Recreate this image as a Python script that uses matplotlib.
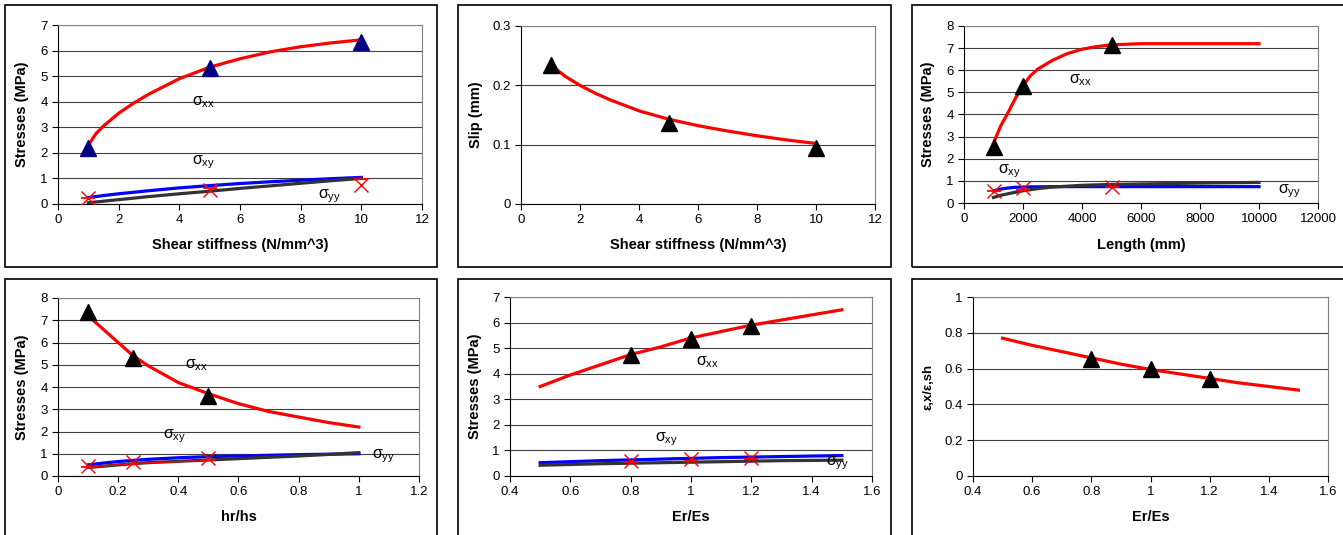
import numpy as np
import matplotlib
matplotlib.use('Agg')
import matplotlib.pyplot as plt
from matplotlib.patches import Rectangle

plt.rcParams['font.family'] = ['Liberation Sans', 'DejaVu Sans']
plt.rcParams['mathtext.fontset'] = 'custom'
plt.rcParams['mathtext.rm'] = 'Liberation Sans'
plt.rcParams['mathtext.it'] = 'Liberation Sans'

# panel 1: shear stiffness vs stresses
p1_x = [1, 1.25, 1.5, 2, 2.5, 3, 4, 5, 6, 7, 8, 9, 10]
p1_sxx = [2.3, 2.75, 3.05, 3.55, 3.95, 4.3, 4.9, 5.35, 5.68, 5.95, 6.15, 6.3, 6.42]
p1_sxy = [0.25, 0.29, 0.33, 0.4, 0.46, 0.52, 0.63, 0.72, 0.8, 0.87, 0.93, 0.99, 1.04]
p1_syy = [0.05, 0.08, 0.11, 0.17, 0.23, 0.29, 0.4, 0.5, 0.61, 0.71, 0.81, 0.91, 1.0]
p1_tri_x = [1, 5, 10]
p1_tri_y = [2.2, 5.3, 6.35]
p1_fe_xy = [0.25, 0.55, 0.75]
p1_fe_yy = [0.22, 0.62, 0.97]

# panel 2: shear stiffness vs slip
p2_x = [1, 1.5, 2, 2.5, 3, 4, 5, 6, 7, 8, 9, 10]
p2_slip = [0.235, 0.215, 0.2, 0.187, 0.176, 0.157, 0.143, 0.132, 0.123, 0.115, 0.108, 0.102]
p2_tri_x = [1, 5, 10]
p2_tri_y = [0.235, 0.137, 0.094]

# panel 3: length vs stresses
p3_x = [1000, 1250, 1500, 1750, 2000, 2250, 2500, 3000, 3500, 4000, 4500, 5000, 6000, 8000, 10000]
p3_sxx = [2.7, 3.5, 4.1, 4.75, 5.3, 5.75, 6.05, 6.45, 6.75, 6.95, 7.07, 7.15, 7.2, 7.2, 7.2]
p3_sxy = [0.55, 0.63, 0.68, 0.71, 0.72, 0.73, 0.73, 0.74, 0.74, 0.74, 0.74, 0.74, 0.74, 0.74, 0.74]
p3_syy = [0.25, 0.35, 0.42, 0.49, 0.55, 0.6, 0.65, 0.72, 0.76, 0.8, 0.82, 0.84, 0.86, 0.9, 0.93]
p3_tri_x = [1000, 2000, 5000]
p3_tri_y = [2.55, 5.3, 7.15]
p3_fe_xy = [0.55, 0.67, 0.72]
p3_fe_yy = [0.52, 0.57, 0.74]

# panel 4: hr/hs vs stresses
p4_x = [0.1, 0.15, 0.2, 0.25, 0.3, 0.4, 0.5, 0.6, 0.7, 0.8, 0.9, 1.0]
p4_sxx = [7.2, 6.6, 6.0, 5.4, 4.95, 4.2, 3.7, 3.25, 2.9, 2.65, 2.4, 2.2]
p4_sxy = [0.5, 0.58, 0.65, 0.7, 0.75, 0.82, 0.87, 0.9, 0.93, 0.96, 0.98, 1.0]
p4_syy = [0.38, 0.44, 0.5, 0.55, 0.6, 0.66, 0.72, 0.78, 0.84, 0.9, 0.97, 1.05]
p4_tri_x = [0.1, 0.25, 0.5]
p4_tri_y = [7.35, 5.3, 3.6]
p4_fe_xy = [0.45, 0.65, 0.8]
p4_fe_yy = [0.4, 0.56, 0.7]

# panel 5: Er/Es vs stresses
p5_x = [0.5, 0.6, 0.7, 0.8, 0.9, 1.0, 1.1, 1.2, 1.3, 1.4, 1.5]
p5_sxx = [3.5, 3.95, 4.35, 4.75, 5.05, 5.4, 5.65, 5.9, 6.1, 6.3, 6.5]
p5_sxy = [0.52, 0.56, 0.6, 0.63, 0.66, 0.69, 0.72, 0.74, 0.76, 0.78, 0.8]
p5_syy = [0.42, 0.45, 0.48, 0.5, 0.52, 0.54, 0.56, 0.58, 0.6, 0.61, 0.62]
p5_tri_x = [0.8, 1.0, 1.2]
p5_tri_y = [4.75, 5.35, 5.85]
p5_fe_xy = [0.6, 0.68, 0.7]
p5_fe_yy = [0.55, 0.6, 0.66]

# panel 6: Er/Es vs strain ratio
p6_x = [0.5, 0.6, 0.7, 0.8, 0.9, 1.0, 1.1, 1.2, 1.3, 1.4, 1.5]
p6_ratio = [0.77, 0.73, 0.695, 0.66, 0.625, 0.595, 0.57, 0.545, 0.52, 0.5, 0.48]
p6_tri_x = [0.8, 1.0, 1.2]
p6_tri_y = [0.655, 0.595, 0.54]

W, H = 1343, 535
fig = plt.figure(figsize=(W / 100, H / 100), dpi=100)

# outer frames of each chart (pixel boxes: left, top, right, bottom)
frames = [(5, 5, 437, 267), (458, 5, 891, 267), (912, 5, 1350, 267),
          (5, 279, 437, 540), (458, 279, 891, 540), (912, 279, 1350, 540)]
for l, t, r, b in frames:
    fig.patches.append(Rectangle((l / W, 1 - b / H), (r - l) / W, (b - t) / H,
                                 transform=fig.transFigure, fill=False,
                                 edgecolor='black', lw=1.2))


def make_ax(l, t, r, b):
    ax = fig.add_axes([l / W, 1 - b / H, (r - l) / W, (b - t) / H])
    ax.set_facecolor('white')
    for s in ['top', 'right']:
        ax.spines[s].set_color('#808080')
    for s in ['left', 'bottom']:
        ax.spines[s].set_color('black')
    ax.tick_params(direction='out', length=4, labelsize=9.5, width=0.8)
    ax.grid(axis='y', color='#404040', lw=0.8)
    ax.set_axisbelow(True)
    return ax, (l, t, r, b)


def labels(ax, box, xl, yl, xlab_y, ylab_x, ysize=10.5):
    l, t, r, b = box
    ax.set_xlabel(xl, fontsize=10.5, fontweight='bold')
    ax.set_ylabel(yl, fontsize=ysize, fontweight='bold')
    ax.xaxis.set_label_coords(0.5, (b - xlab_y) / (b - t))
    ax.xaxis.label.set_va('center')
    ax.yaxis.set_label_coords((ylab_x - l) / (r - l), 0.5)
    ax.yaxis.label.set_va('center')


def sig(ax, x, y, sub):
    ax.text(x, y, r'$\sigma_{%s}$' % sub, fontsize=11.5, va='center', ha='left')


def stress_lines(ax, x, sxx, sxy, syy):
    ax.plot(x, sxy, color='#0000ff', lw=2.3, zorder=3)
    ax.plot(x, syy, color='#333333', lw=2.3, zorder=3)
    ax.plot(x, sxx, color='#ff0000', lw=2.3, zorder=3)


def fe_marks(ax, x, fxy, fyy, line=False):
    ax.plot(x, fyy, color='#ff0000', marker='_', ms=10, mew=1.3,
            ls='-' if line else 'none', lw=1, zorder=4)
    ax.plot(x, fxy, color='#ff0000', marker='x', ms=10, mew=1, ls='none', zorder=4)


tri = dict(marker='^', ms=11, ls='none', zorder=5)

# panel 1
ax, box = make_ax(58, 25, 422, 204)
stress_lines(ax, p1_x, p1_sxx, p1_sxy, p1_syy)
ax.plot(p1_tri_x, p1_tri_y, color='#000080', **tri)
fe_marks(ax, p1_tri_x, p1_fe_xy, p1_fe_yy)
ax.set_xlim(0, 12)
ax.set_ylim(0, 7)
ax.set_xticks(range(0, 13, 2))
ax.set_yticks(range(0, 8))
sig(ax, 4.42, 3.99, 'xx')
sig(ax, 4.42, 1.64, 'xy')
sig(ax, 8.57, 0.3, 'yy')
labels(ax, box, 'Shear stiffness (N/mm^3)', 'Stresses (MPa)', 245, 22)

# panel 2
ax, box = make_ax(521, 26, 875, 204)
ax.plot(p2_x, p2_slip, color='#ff0000', lw=2.3, zorder=3)
ax.plot(p2_tri_x, p2_tri_y, color='black', **tri)
ax.set_xlim(0, 12)
ax.set_ylim(0, 0.3)
ax.set_xticks(range(0, 13, 2))
ax.set_yticks([0, 0.1, 0.2, 0.3])
ax.set_yticklabels(['0', '0.1', '0.2', '0.3'])
labels(ax, box, 'Shear stiffness (N/mm^3)', 'Slip (mm)', 245, 476)

# panel 3
ax, box = make_ax(964, 26, 1318, 203)
stress_lines(ax, p3_x, p3_sxx, p3_sxy, p3_syy)
ax.plot(p3_tri_x, p3_tri_y, color='black', **tri)
fe_marks(ax, p3_tri_x, p3_fe_xy, p3_fe_yy)
ax.set_xlim(0, 12000)
ax.set_ylim(0, 8)
ax.set_xticks(range(0, 12001, 2000))
ax.set_yticks(range(0, 9))
sig(ax, 3560, 5.56, 'xx')
sig(ax, 1150, 1.45, 'xy')
sig(ax, 10640, 0.54, 'yy')
labels(ax, box, 'Length (mm)', 'Stresses (MPa)', 245, 928)

# panel 4
ax, box = make_ax(58, 298, 419, 476)
stress_lines(ax, p4_x, p4_sxx, p4_sxy, p4_syy)
ax.plot(p4_tri_x, p4_tri_y, color='black', **tri)
fe_marks(ax, p4_tri_x, p4_fe_xy, p4_fe_yy, line=True)
ax.set_xlim(0, 1.2)
ax.set_ylim(0, 8)
ax.set_xticks([0, 0.2, 0.4, 0.6, 0.8, 1.0, 1.2])
ax.set_xticklabels(['0', '0.2', '0.4', '0.6', '0.8', '1', '1.2'])
ax.set_yticks(range(0, 9))
sig(ax, 0.422, 4.99, 'xx')
sig(ax, 0.349, 1.8, 'xy')
sig(ax, 1.044, 0.9, 'yy')
labels(ax, box, 'hr/hs', 'Stresses (MPa)', 517, 22)

# panel 5
ax, box = make_ax(510, 297, 872, 476)
stress_lines(ax, p5_x, p5_sxx, p5_sxy, p5_syy)
ax.plot(p5_tri_x, p5_tri_y, color='black', **tri)
fe_marks(ax, p5_tri_x, p5_fe_xy, p5_fe_yy)
ax.set_xlim(0.4, 1.6)
ax.set_ylim(0, 7)
ax.set_xticks([0.4, 0.6, 0.8, 1.0, 1.2, 1.4, 1.6])
ax.set_xticklabels(['0.4', '0.6', '0.8', '1', '1.2', '1.4', '1.6'])
ax.set_yticks(range(0, 8))
sig(ax, 1.017, 4.46, 'xx')
sig(ax, 0.88, 1.45, 'xy')
sig(ax, 1.448, 0.5, 'yy')
labels(ax, box, 'Er/Es', 'Stresses (MPa)', 517, 475)

# panel 6
ax, box = make_ax(973, 297, 1328, 476)
ax.plot(p6_x, p6_ratio, color='#ff0000', lw=2.3, zorder=3)
ax.plot(p6_tri_x, p6_tri_y, color='black', **tri)
ax.set_xlim(0.4, 1.6)
ax.set_ylim(0, 1)
ax.set_xticks([0.4, 0.6, 0.8, 1.0, 1.2, 1.4, 1.6])
ax.set_xticklabels(['0.4', '0.6', '0.8', '1', '1.2', '1.4', '1.6'])
ax.set_yticks([0, 0.2, 0.4, 0.6, 0.8, 1.0])
ax.set_yticklabels(['0', '0.2', '0.4', '0.6', '0.8', '1'])
labels(ax, box, 'Er/Es', 'ε,x/ε,sh', 517, 928, ysize=9.5)

fig.savefig('out.png', dpi=100, facecolor='white')
